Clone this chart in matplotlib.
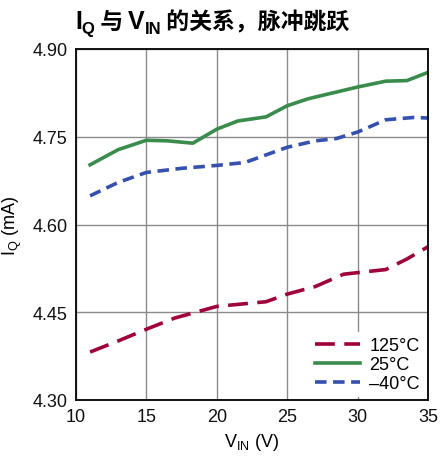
import matplotlib
matplotlib.use("Agg")
import matplotlib.pyplot as plt
from matplotlib import font_manager

# supply current vs input voltage, pulse-skipping mode
vin_hot = [11, 13, 15, 17, 20, 23.5, 25, 27, 29, 32, 33.5, 35]
iq_hot = [4.382, 4.401, 4.421, 4.440, 4.460, 4.468, 4.481, 4.494, 4.515, 4.523, 4.541, 4.562]

vin_room = [11, 13, 15, 16.5, 18.3, 20, 21.5, 23.5, 25, 26.5, 30, 32, 33.5, 35]
iq_room = [4.702, 4.728, 4.744, 4.743, 4.739, 4.763, 4.777, 4.784, 4.803, 4.815, 4.835, 4.845, 4.846, 4.860]

vin_cold = [11, 13, 15, 17.5, 20, 22, 25, 27, 28.5, 30, 32, 34, 35]
iq_cold = [4.649, 4.672, 4.689, 4.696, 4.701, 4.706, 4.732, 4.743, 4.747, 4.758, 4.779, 4.783, 4.782]

labels = ["125°C", "25°C", "–40°C"]
xticks = [10, 15, 20, 25, 30, 35]
yticks = [4.30, 4.45, 4.60, 4.75, 4.90]

names = {f.name for f in font_manager.fontManager.ttflist}
narrow = "Liberation Sans Narrow" if "Liberation Sans Narrow" in names else "Liberation Sans"
plt.rcParams["font.family"] = [narrow, "Noto Sans CJK SC", "DejaVu Sans"]

fig = plt.figure(figsize=(4.4, 4.64), dpi=100)
ax = fig.add_axes([76 / 440, 1 - 401 / 464, 352 / 440, 351 / 464])

ax.plot(vin_hot, iq_hot, color="#a0023c", lw=2.6, dashes=(5.5, 2.6), label=labels[0])
ax.plot(vin_room, iq_room, color="#3a8c4c", lw=2.6, label=labels[1])
ax.plot(vin_cold, iq_cold, color="#3550ad", lw=2.6, dashes=(3.2, 1.8), label=labels[2])

ax.set_xlim(10, 35)
ax.set_ylim(4.30, 4.90)
ax.set_xticks(xticks)
ax.set_yticks(yticks)
ax.set_yticklabels([f"{v:.2f}" for v in yticks])
ax.grid(True, color="#8a8a8a", lw=1.0)
ax.set_axisbelow(True)
ax.tick_params(length=0, labelsize=13, pad=6, colors="#111111")
for s in ax.spines.values():
    s.set_linewidth(1.4)
    s.set_color("#111111")

ax.set_xlabel("V$_{\\mathregular{IN}}$ (V)", fontsize=13, labelpad=4)
ax.set_ylabel("I$_{\\mathregular{Q}}$ (mA)", fontsize=13, labelpad=6)

leg = ax.legend(loc="lower right", frameon=True, facecolor="white", edgecolor="none",
                framealpha=1, fontsize=13, handlelength=2.5, handletextpad=0.5,
                labelspacing=0.1, borderpad=0.3, borderaxespad=0.15)
leg.get_frame().set_boxstyle("square", pad=0)

# title built from pieces so the subscripts and CJK glyphs share one line
renderer = fig.canvas.get_renderer()
pieces = [("I", 18, 0), ("Q", 12, -5), (" 与 ", 16.5, 0), ("V", 18, 0), ("IN", 12, -5),
          (" 的关系，脉冲跳跃", 16.5, 0)]
x = 75
base = 464 - 29
for s, size, dy in pieces:
    fam = [narrow, "Noto Sans CJK SC"] if s.strip() in ("I", "Q", "V", "IN") else ["Noto Sans CJK SC"]
    t = fig.text(x / 440, (base + dy) / 464, s, fontsize=size, fontweight="bold",
                 family=fam, va="baseline", ha="left")
    x = t.get_window_extent(renderer).x1

fig.savefig("out.png", dpi=100)
